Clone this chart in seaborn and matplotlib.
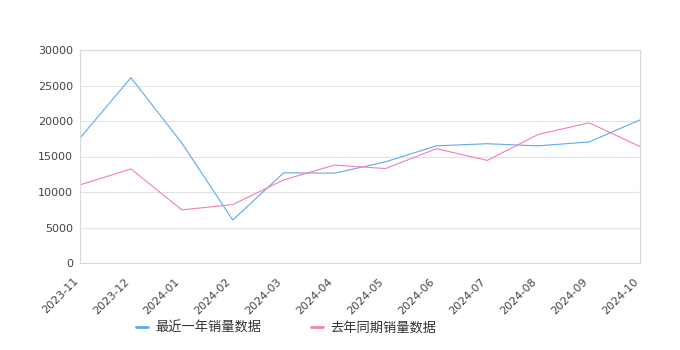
import matplotlib
matplotlib.use("Agg")
import matplotlib.pyplot as plt
import seaborn as sns
import pandas as pd
from matplotlib.lines import Line2D

months = ["2023-11", "2023-12", "2024-01", "2024-02", "2024-03", "2024-04",
          "2024-05", "2024-06", "2024-07", "2024-08", "2024-09", "2024-10"]
recent = [17600, 26100, 16900, 6050, 12700, 12650, 14250, 16500, 16800, 16500, 17050, 20150]
last_year = [11000, 13250, 7480, 8230, 11700, 13800, 13300, 16100, 14450, 18100, 19750, 16400]
series_names = ["最近一年销量数据", "去年同期销量数据"]
yticks = [0, 5000, 10000, 15000, 20000, 25000, 30000]

sns.set_theme(style="white")
plt.rcParams['font.family'] = ['DejaVu Sans', 'Noto Sans CJK SC']

df = pd.DataFrame({
    "month": months * 2,
    "value": recent + last_year,
    "series": [series_names[0]] * len(months) + [series_names[1]] * len(months),
})
df["x"] = list(range(len(months))) * 2

fig = plt.figure(figsize=(6.8, 3.5), dpi=100)
ax = fig.add_axes([80/680, 1 - 263/350, 560/680, 213/350])

palette = {series_names[0]: "#5fa8f2", series_names[1]: "#f27fb8"}
sns.lineplot(data=df, x="x", y="value", hue="series", palette=palette,
             linewidth=0.8, ax=ax, legend=False)

ax.set_xlim(0, len(months) - 1)
ax.set_ylim(0, 30000)
ax.set_yticks(yticks)
ax.set_yticklabels([str(v) for v in yticks], fontsize=8, color="#444444")
ax.set_xticks(range(len(months)))
ax.set_xticklabels(months, rotation=45, ha="right", va="bottom", rotation_mode="anchor",
                   fontsize=8, color="#444444")
ax.tick_params(axis="y", length=0, pad=5)
ax.tick_params(axis="x", length=0, pad=14.5)
ax.set_xlabel("")
ax.set_ylabel("")
ax.grid(axis="y", color="#e3e3e3", linewidth=0.8)
for s in ax.spines.values():
    s.set_color("#d9d9d9")
    s.set_linewidth(0.8)

handles = [Line2D([0], [0], color=palette[n], linewidth=2) for n in series_names]
fig.legend(handles, series_names, loc="center", bbox_to_anchor=(0.421, 1 - 328/350),
           ncol=2, frameon=False, prop={"family": "Noto Sans CJK SC", "size": 9.5},
           handlelength=0.9, handletextpad=0.6,
           columnspacing=3.75, labelcolor="#333333")

fig.savefig("out.png", dpi=100)
